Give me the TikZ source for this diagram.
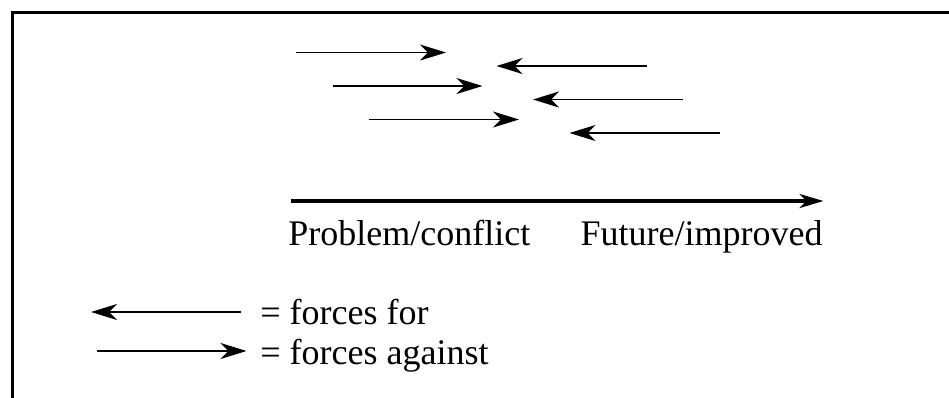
\documentclass[tikz,border=0pt]{standalone}
\usepackage{fontspec}
\setmainfont{Liberation Serif}
\usetikzlibrary{arrows.meta}

\tikzset{
    force/.style={line width=0.9pt,-{Stealth[length=13pt,width=8pt,inset=4pt]}},
    trend/.style={line width=1.8pt,-{Stealth[length=12pt,width=7pt,inset=3.5pt]}},
    lbl/.style={inner sep=0pt,font=\fontsize{18}{21}\selectfont}
}

\begin{document}
\begin{tikzpicture}[x=0.5pt,y=-0.5pt]
    \useasboundingbox (0,0) rectangle (949,397);
    \draw[line width=1.5pt] (12,402) -- (12,12) -- (955,12);

    \foreach \i in {0,1,2}
        {
            \draw[force] ({296+36.5*\i},{52.5+33.5*\i}) -- ++(150,0);
            \draw[force] ({646.5+36.5*\i},{66+33.5*\i}) -- ++(-150,0);
        }

    \draw[trend] (290.5,201) -- (823.5,201);
    \node[lbl,anchor=base west] (problem) at (288,245) {Problem/conflict};
    \node[lbl,anchor=base east] (future) at (823,245) {Future/improved};

    \draw[force] (241,312) -- (91,312);
    \draw[force] (96.5,351) -- (246.5,351);
    \node[lbl,anchor=base west] (for) at (260,324) {= forces for};
    \node[lbl,anchor=base west] (against) at (260,364) {= forces against};
\end{tikzpicture}
\end{document}
